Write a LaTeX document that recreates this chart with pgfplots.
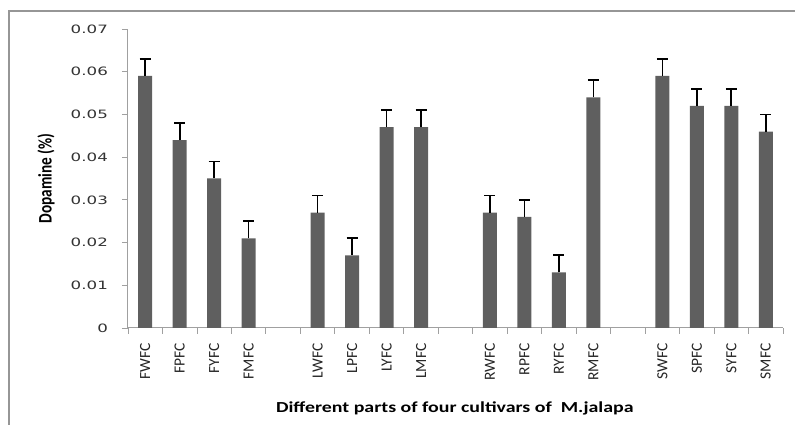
\documentclass[border=0pt]{standalone}
\usepackage{pgfplots}
\pgfplotsset{compat=1.18}
\usepackage{pgfplotstable}
\usepackage{fontspec}
\setmainfont{Carlito}
\newfontfamily\tickfont{DejaVu Sans}
\newcommand\xtf{\fontsize{15.5}{17}\selectfont}
\newcommand\ytf{\tickfont\fontsize{11.5}{13}\selectfont}
\newcommand\lbf{\bfseries\fontsize{15.3}{17}\selectfont}
\definecolor{barcol}{RGB}{95,95,95}
\definecolor{axcol}{RGB}{160,160,160}
\definecolor{framecol}{RGB}{150,150,150}

\pgfplotstableread{
x y e
0 0.059 0.004
1 0.044 0.004
2 0.035 0.004
3 0.021 0.004
5 0.027 0.004
6 0.017 0.004
7 0.047 0.004
8 0.047 0.004
10 0.027 0.004
11 0.026 0.004
12 0.013 0.004
13 0.054 0.004
15 0.059 0.004
16 0.052 0.004
17 0.052 0.004
18 0.046 0.004
}\datatable

\begin{document}
\begin{tikzpicture}
\useasboundingbox (-128pt,-97pt) rectangle (667pt,328pt);
\begin{axis}[
  at={(0,0)}, anchor=south west,
  scale only axis, width=655pt, height=299pt,
  xmin=-0.5, xmax=18.5, ymin=0, ymax=0.07,
  axis x line*=bottom, axis y line*=left,
  axis line style={-, draw=axcol, line width=1pt},
  xtick={0,1,2,3,5,6,7,8,10,11,12,13,15,16,17,18},
  xticklabels={FWFC,FPFC,FYFC,FMFC,LWFC,LPFC,LYFC,LMFC,RWFC,RPFC,RYFC,RMFC,SWFC,SPFC,SYFC,SMFC},
  minor xtick={-0.5,0.5,...,18.5},
  major x tick style={draw=none},
  minor x tick style={draw=axcol, line width=0.8pt},
  minor tick length=6pt,
  major tick length=6pt,
  tick align=outside,
  scaled y ticks=false,
  ytick={0,0.01,0.02,0.03,0.04,0.05,0.06,0.07},
  yticklabels={0,0.01,0.02,0.03,0.04,0.05,0.06,0.07},
  major y tick style={draw=axcol, line width=0.8pt},
  /pgf/number format/assume math mode=true,
  xticklabel style={font=\xtf, yshift=-6pt, rotate=90, anchor=east, text=black!85},
  yticklabel style={font=\ytf, xshift=-9pt, xscale=1.45, text=black!80},
  xlabel={Different parts of four cultivars of\ \ M.jalapa},
  ylabel={Dopamine (\%)},
  xlabel style={font=\lbf, xscale=1.3, at={(axis description cs:0.499,-0.268)}, anchor=center},
  ylabel style={font=\lbf, yscale=1.25, at={(axis description cs:-0.125,0.5)}, anchor=center},
  clip=false,
]
\addplot[ybar, bar width=14pt, fill=barcol, draw=none,
  error bars/.cd, y dir=plus, y explicit,
  error bar style={black, line width=1.6pt},
  error mark options={black, mark size=5.5pt, line width=1.8pt, rotate=90}]
  table[x=x, y=y, y error=e] {\datatable};
\end{axis}
\draw[framecol, line width=1.5pt] (-119pt,-97pt) -- (-119pt,317pt) -- (667pt,317pt);
\end{tikzpicture}
\end{document}
